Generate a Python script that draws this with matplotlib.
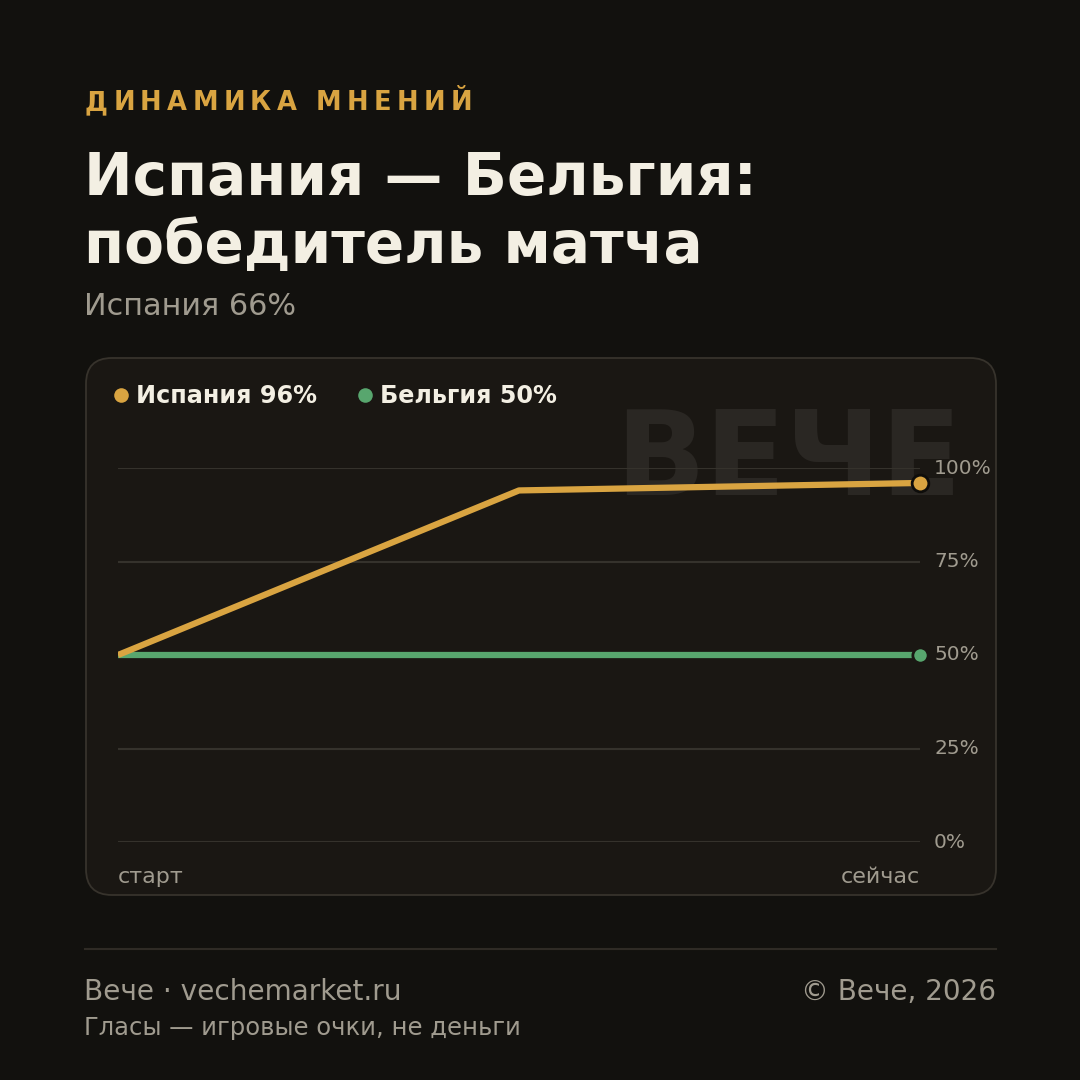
import matplotlib
matplotlib.use("Agg")
import matplotlib.pyplot as plt
from matplotlib.patches import FancyBboxPatch
from matplotlib.lines import Line2D

# data
steps = [0, 1, 2]
spain = [50, 94, 96]
belgium = [50, 50, 50]
yticks = [0, 25, 50, 75, 100]
ytick_labels = ["0%", "25%", "50%", "75%", "100%"]
x_labels = ["старт", "сейчас"]

kicker = "ДИНАМИКА МНЕНИЙ"
title = "Испания — Бельгия:\nпобедитель матча"
subtitle = "Испания 66%"
legend_items = ["Испания 96%", "Бельгия 50%"]

BG = "#12110e"
CARD = "#1a1713"
GOLD = "#d9a441"
GREEN = "#58a66e"
CREAM = "#f3efe3"
GRAY = "#a09b8f"
GRID = "#35322c"

W = H = 1080
fig = plt.figure(figsize=(10.8, 10.8), dpi=100, facecolor=BG)
plt.rcParams['font.family'] = ['DejaVu Sans']


def fx(px):
    return px / W


def fy(py):
    return 1 - py / H


# card
card = FancyBboxPatch((fx(86), fy(895)), fx(996 - 86), (895 - 358) / H,
                      boxstyle="round,pad=0,rounding_size=0.024",
                      transform=fig.transFigure, facecolor=CARD,
                      edgecolor="#37332c", linewidth=1.3, zorder=0.1)
fig.patches.append(card)

# kicker with letter spacing
renderer = fig.canvas.get_renderer()
x = 85
for ch in kicker:
    t = fig.text(fx(x), fy(110), ch, color=GOLD, fontsize=18.5, fontweight="bold",
                 ha="left", va="baseline")
    w, h, d = renderer.get_text_width_height_descent(ch, t.get_fontproperties(), ismath=False)
    x += w + 5.3

fig.text(fx(84), fy(195), title.split("\n")[0], color=CREAM, fontsize=41.8,
         fontweight="bold", ha="left", va="baseline")
fig.text(fx(84), fy(263), title.split("\n")[1], color=CREAM, fontsize=41.8,
         fontweight="bold", ha="left", va="baseline")
fig.text(fx(84), fy(315), subtitle, color=GRAY, fontsize=21.8, ha="left", va="baseline")

# watermark
fig.text(fx(962), fy(495), "ВЕЧЕ", color="#2a2723", fontsize=85, fontweight="bold",
         ha="right", va="baseline", zorder=0.5)

# legend
for lx, label, col in [(121, legend_items[0], GOLD), (365, legend_items[1], GREEN)]:
    fig.lines.append(Line2D([fx(lx)], [fy(395)], marker="o", markersize=10.5,
                            color=col, markeredgewidth=0, transform=fig.transFigure))
    fig.text(fx(lx + 15), fy(403), label, color=CREAM, fontsize=17.2, fontweight="bold",
             ha="left", va="baseline")

# chart axes
ax = fig.add_axes([fx(118), fy(842), fx(920 - 118), (842 - 468) / H])
ax.set_zorder(2)
ax.set_facecolor("none")
ax.set_xlim(steps[0], steps[-1])
ax.set_ylim(0, 100)
for s in ax.spines.values():
    s.set_visible(False)
ax.set_xticks([])
ax.set_yticks([])
for v, lab in zip(yticks, ytick_labels):
    ax.axhline(v, color=GRID, linewidth=1.5, zorder=1)
    ax.text(1.0175, v, lab, transform=ax.get_yaxis_transform(), color=GRAY,
            fontsize=14.5, ha="left", va="center")

ax.plot(steps, belgium, color=GREEN, linewidth=4.5, solid_capstyle="butt", zorder=3)
ax.plot(steps, spain, color=GOLD, linewidth=4.5, solid_capstyle="butt", zorder=4)
ax.plot([steps[-1]], [belgium[-1]], marker="o", markersize=11, color=GREEN,
        markeredgecolor=CARD, markeredgewidth=2, clip_on=False, zorder=5)
ax.plot([steps[-1]], [spain[-1]], marker="o", markersize=12, color=GOLD,
        markeredgecolor="#0e0d0b", markeredgewidth=2, clip_on=False, zorder=6)

fig.text(fx(118), fy(883), x_labels[0], color=GRAY, fontsize=16, ha="left", va="baseline")
fig.text(fx(920), fy(883), x_labels[1], color=GRAY, fontsize=16, ha="right", va="baseline")

# footer
fig.lines.append(Line2D([fx(85), fx(996)], [fy(949), fy(949)], color="#2f2b25",
                        linewidth=1.5, transform=fig.transFigure))
fig.text(fx(84), fy(1000), "Вече · vechemarket.ru", color=GRAY, fontsize=20.2,
         ha="left", va="baseline")
fig.text(fx(996), fy(1000), "© Вече, 2026", color=GRAY, fontsize=20.1,
         ha="right", va="baseline")
fig.text(fx(84), fy(1035), "Гласы — игровые очки, не деньги", color=GRAY, fontsize=17.5,
         ha="left", va="baseline")

fig.savefig("out.png", dpi=100, facecolor=BG)
